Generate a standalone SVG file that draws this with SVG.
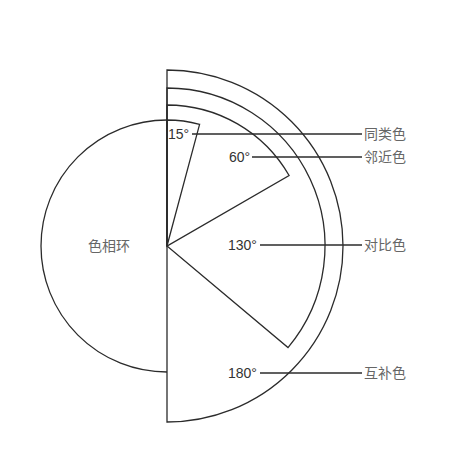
<svg xmlns="http://www.w3.org/2000/svg" width="452" height="458" viewBox="0 0 452 458">
<style>
.s{fill:none;stroke:#2b2b2b;stroke-width:1.3}
.c{stroke:#2b2b2b;stroke-width:1.3}
.n{font-family:"Liberation Sans",Arial,sans-serif;font-size:14px;fill:#333}
.z{font-family:"Noto Sans CJK SC","Noto Sans",sans-serif;font-size:14px;fill:#666}
</style>
<rect width="452" height="458" fill="#fff"/>
<g id="sector180"><path class="s" d="M167,70 A176,176 0 0 1 167,422 Z"/></g>
<g id="sector130"><path class="s" d="M167,246 L167,88 A158,158 0 0 1 288,347.6 Z"/></g>
<g id="sector60"><path class="s" d="M167,246 L167,105 A141,141 0 0 1 289.1,175.5 Z"/></g>
<g id="sector15"><path class="s" d="M167,246 L167,120 A126,126 0 0 1 199.6,124.3 Z"/></g>
<g id="wheel"><path class="s" d="M167,120 A126,126 0 0 0 167,372"/>
<text class="z" x="109" y="251" text-anchor="middle">色相环</text></g>
<g id="connectors">
<line class="c" x1="192" y1="134" x2="362" y2="134"/>
<line class="c" x1="252" y1="157" x2="362" y2="157"/>
<line class="c" x1="260" y1="245" x2="362" y2="245"/>
<line class="c" x1="260" y1="373" x2="362" y2="373"/>
</g>
<g id="labels">
<text class="n" x="168" y="139">15°</text>
<text class="n" x="229" y="162">60°</text>
<text class="n" x="228" y="250">130°</text>
<text class="n" x="228" y="378">180°</text>
<text class="z" x="364" y="139">同类色</text>
<text class="z" x="364" y="162">邻近色</text>
<text class="z" x="364" y="250">对比色</text>
<text class="z" x="364" y="378">互补色</text>
</g>
</svg>
